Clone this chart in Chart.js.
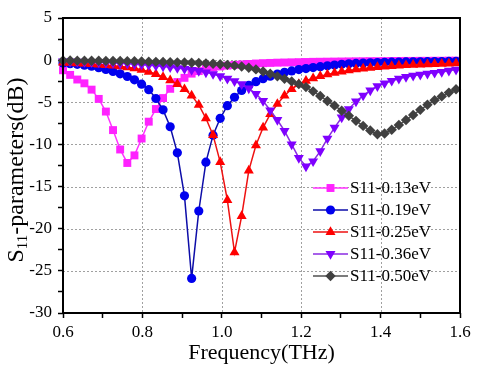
<!DOCTYPE html>
<html>
<head>
<meta charset="utf-8">
<script src="https://cdn.jsdelivr.net/npm/chart.js@4.4.0/dist/chart.umd.min.js"></script>
<style>
  html, body { margin: 0; padding: 0; background: #fff; }
  #wrap { width: 480px; height: 368px; }
</style>
</head>
<body>
<div id="wrap"><canvas id="chart" width="480" height="368"></canvas></div>
<script>
// frequency samples (THz)
const freq = [
  0.600, 0.618, 0.636, 0.654, 0.672, 0.690, 0.708, 0.726, 0.744, 0.762,
  0.780, 0.798, 0.816, 0.834, 0.852, 0.870, 0.888, 0.906, 0.924, 0.942,
  0.960, 0.978, 0.996, 1.014, 1.032, 1.050, 1.068, 1.086, 1.104, 1.122,
  1.140, 1.158, 1.176, 1.194, 1.212, 1.230, 1.248, 1.266, 1.284, 1.302,
  1.320, 1.338, 1.356, 1.374, 1.392, 1.410, 1.428, 1.446, 1.464, 1.482,
  1.500, 1.518, 1.536, 1.554, 1.572, 1.590
];

// S11 (dB) per graphene chemical potential
const s11_013 = [
  -1.2, -1.75, -2.3, -2.75, -3.5, -4.6, -6.1, -8.3, -10.6, -12.2,
  -11.3, -9.3, -7.3, -5.8, -4.5, -3.4, -2.6, -2.1, -1.6, -1.3,
  -1.05, -0.88, -0.75, -0.65, -0.57, -0.5, -0.45, -0.4, -0.36, -0.33,
  -0.3, -0.28, -0.26, -0.24, -0.22, -0.2, -0.19, -0.18, -0.17, -0.16,
  -0.15, -0.14, -0.13, -0.12, -0.12, -0.11, -0.1, -0.1, -0.09, -0.09,
  -0.08, -0.08, -0.07, -0.07, -0.06, -0.06
];
const s11_019 = [
  -0.35, -0.42, -0.5, -0.6, -0.72, -0.9, -1.1, -1.35, -1.62, -1.94,
  -2.33, -2.85, -3.5, -4.55, -5.9, -7.9, -11.0, -16.1, -25.9, -17.9,
  -12.1, -8.9, -6.9, -5.4, -4.4, -3.6, -3.0, -2.55, -2.2, -1.9,
  -1.65, -1.45, -1.28, -1.12, -1.0, -0.88, -0.77, -0.67, -0.58, -0.5,
  -0.44, -0.39, -0.35, -0.31, -0.28, -0.26, -0.24, -0.22, -0.21, -0.2,
  -0.19, -0.18, -0.17, -0.16, -0.15, -0.14
];
const s11_025 = [
  -0.3, -0.33, -0.37, -0.41, -0.46, -0.52, -0.58, -0.66, -0.75, -0.85,
  -0.97, -1.15, -1.38, -1.65, -2.0, -2.4, -2.85, -3.45, -4.2, -5.3,
  -6.9, -8.9, -12.1, -16.6, -22.8, -18.5, -13.1, -10.1, -8.0, -6.4,
  -5.2, -4.2, -3.45, -2.85, -2.45, -2.15, -1.9, -1.7, -1.52, -1.36,
  -1.22, -1.1, -1.0, -0.91, -0.83, -0.76, -0.7, -0.65, -0.6, -0.56,
  -0.52, -0.49, -0.46, -0.43, -0.41, -0.39
];
const s11_036 = [
  -0.15, -0.17, -0.19, -0.21, -0.24, -0.27, -0.3, -0.34, -0.38, -0.43,
  -0.48, -0.54, -0.6, -0.67, -0.75, -0.84, -0.94, -1.05, -1.16, -1.28,
  -1.45, -1.65, -1.9, -2.2, -2.5, -2.85, -3.35, -4.0, -4.85, -5.95,
  -7.1, -8.4, -10.0, -11.6, -12.6, -12.0, -10.8, -9.3, -8.0, -6.8,
  -5.8, -4.9, -4.2, -3.6, -3.1, -2.75, -2.45, -2.2, -2.0, -1.85,
  -1.72, -1.6, -1.5, -1.4, -1.25, -1.12
];
const s11_050 = [
  -0.05, -0.05, -0.06, -0.06, -0.07, -0.08, -0.09, -0.1, -0.11, -0.12,
  -0.14, -0.16, -0.18, -0.2, -0.22, -0.24, -0.26, -0.28, -0.31, -0.34,
  -0.38, -0.43, -0.49, -0.56, -0.65, -0.76, -0.9, -1.1, -1.35, -1.62,
  -1.92, -2.22, -2.52, -2.85, -3.2, -3.7, -4.25, -4.85, -5.4, -6.0,
  -6.6, -7.2, -7.8, -8.35, -8.8, -8.7, -8.25, -7.7, -7.1, -6.5,
  -5.9, -5.3, -4.75, -4.3, -3.85, -3.45
];

const seriesNames = ["S11-0.13eV", "S11-0.19eV", "S11-0.25eV", "S11-0.36eV", "S11-0.50eV"];
const xMajor = [0.6, 0.8, 1.0, 1.2, 1.4, 1.6];
const yMajor = [5, 0, -5, -10, -15, -20, -25, -30];

const FONT = '"Liberation Serif", "Times New Roman", serif';

function pts(vals) {
  return vals.map((v, i) => ({ x: freq[i], y: v }));
}

function series(label, vals, line, marker, style, radius, rot, order) {
  return {
    label: label,
    data: pts(vals),
    borderColor: line,
    borderWidth: 1.5,
    backgroundColor: marker,
    pointBackgroundColor: marker,
    pointBorderColor: marker,
    pointBorderWidth: 0,
    pointStyle: style,
    pointRadius: radius,
    pointRotation: rot,
    tension: 0,
    clip: false,
    order: order
  };
}

const isMajorX = (v) => Math.round(v * 10) % 2 === 0;
const isMajorY = (v) => Math.round(v * 10) % 50 === 0;

// dotted grid, plot box, axis titles and the legend
const frame = {
  id: "frame",
  beforeDatasetsDraw(chart) {
    const { ctx, chartArea: a, scales: { x, y } } = chart;
    ctx.save();
    ctx.strokeStyle = "#a0a0a0";
    ctx.lineWidth = 1;
    ctx.setLineDash([2, 2]);
    xMajor.forEach((v) => {
      const px = Math.round(x.getPixelForValue(v)) + 0.5;
      if (px <= a.left + 2 || px >= a.right - 2) return;
      ctx.beginPath(); ctx.moveTo(px, a.top); ctx.lineTo(px, a.bottom); ctx.stroke();
    });
    yMajor.forEach((v) => {
      const py = Math.round(y.getPixelForValue(v)) + 0.5;
      if (py <= a.top + 2 || py >= a.bottom - 2) return;
      ctx.beginPath(); ctx.moveTo(a.left, py); ctx.lineTo(a.right, py); ctx.stroke();
    });
    ctx.restore();
  },
  afterDraw(chart) {
    const { ctx, chartArea: a } = chart;
    ctx.save();
    ctx.strokeStyle = "#000";
    ctx.lineWidth = 2;
    ctx.strokeRect(a.left, a.top, a.right - a.left, a.bottom - a.top);

    // x title
    ctx.fillStyle = "#000";
    ctx.font = "22px " + FONT;
    ctx.textAlign = "center";
    ctx.textBaseline = "alphabetic";
    ctx.fillText("Frequency(THz)", (a.left + a.right) / 2, 359);

    // y title with subscript
    ctx.save();
    ctx.translate(15, 170);
    ctx.rotate(-Math.PI / 2);
    ctx.textAlign = "left";
    const big = "24px " + FONT, small = "15px " + FONT;
    ctx.font = big;
    const wS = ctx.measureText("S").width;
    const wRest = ctx.measureText("-parameters(dB)").width;
    ctx.font = small;
    const wSub = ctx.measureText("11").width;
    let cx = -(wS + wSub + wRest) / 2;
    ctx.font = big;
    ctx.fillText("S", cx, 8);
    cx += wS;
    ctx.font = small;
    ctx.fillText("11", cx, 12);
    cx += wSub;
    ctx.font = big;
    ctx.fillText("-parameters(dB)", cx, 8);
    ctx.restore();

    // legend
    const lx0 = 313, lx1 = 348, tx = 350, ly0 = 188, dy = 22;
    ctx.font = "17px " + FONT;
    ctx.textAlign = "left";
    ctx.textBaseline = "middle";
    chart.data.datasets.forEach((ds, i) => {
      const yy = ly0 + i * dy;
      ctx.strokeStyle = ds.borderColor;
      ctx.lineWidth = 1.5;
      ctx.beginPath(); ctx.moveTo(lx0, yy); ctx.lineTo(lx1, yy); ctx.stroke();
      ctx.fillStyle = ds.pointBackgroundColor;
      Chart.helpers.drawPoint(ctx, {
        pointStyle: ds.pointStyle, rotation: ds.pointRotation,
        radius: ds.pointRadius, borderWidth: 0
      }, (lx0 + lx1) / 2, yy);
      ctx.fillStyle = "#000";
      ctx.fillText(ds.label, tx, yy + 1);
    });
    ctx.restore();
  }
};

new Chart(document.getElementById("chart"), {
  type: "line",
  data: {
    datasets: [
      series(seriesNames[0], s11_013, "#ff33ff", "#ff22ff", "rect", 5.6, 0, 5),
      series(seriesNames[1], s11_019, "#0d0da8", "#0000ee", "circle", 4.6, 0, 4),
      series(seriesNames[2], s11_025, "#ee1111", "#ff0000", "triangle", 5.8, 0, 3),
      series(seriesNames[3], s11_036, "#8a2be2", "#7f00ff", "triangle", 5.8, 180, 2),
      series(seriesNames[4], s11_050, "#505050", "#404040", "rectRot", 5.2, 0, 1)
    ]
  },
  options: {
    responsive: false,
    animation: false,
    devicePixelRatio: 1,
    layout: { padding: { left: 0, top: 18, right: 20, bottom: 0 } },
    plugins: { legend: { display: false }, tooltip: { enabled: false } },
    scales: {
      x: {
        type: "linear",
        min: 0.6,
        max: 1.6,
        border: { display: false },
        grid: { drawOnChartArea: false, drawTicks: true, tickLength: 5, tickColor: "#000", tickWidth: 1.5, color: "#000" },
        ticks: {
          stepSize: 0.1,
          autoSkip: false,
          maxRotation: 0,
          padding: 4,
          color: "#000",
          font: { family: FONT, size: 17 },
          callback: (v) => (isMajorX(v) ? v.toFixed(1) : "")
        },
        afterFit: (s) => { s.height = 55; }
      },
      y: {
        type: "linear",
        min: -30,
        max: 5,
        border: { display: false },
        grid: { drawOnChartArea: false, drawTicks: true, tickLength: 5, tickColor: "#000", tickWidth: 1.5, color: "#000" },
        ticks: {
          stepSize: 2.5,
          autoSkip: false,
          padding: 6,
          color: "#000",
          font: { family: FONT, size: 17 },
          callback: (v) => (isMajorY(v) ? String(v) : "")
        },
        afterFit: (s) => { s.width = 63; }
      }
    }
  },
  plugins: [frame]
});
</script>
</body>
</html>
